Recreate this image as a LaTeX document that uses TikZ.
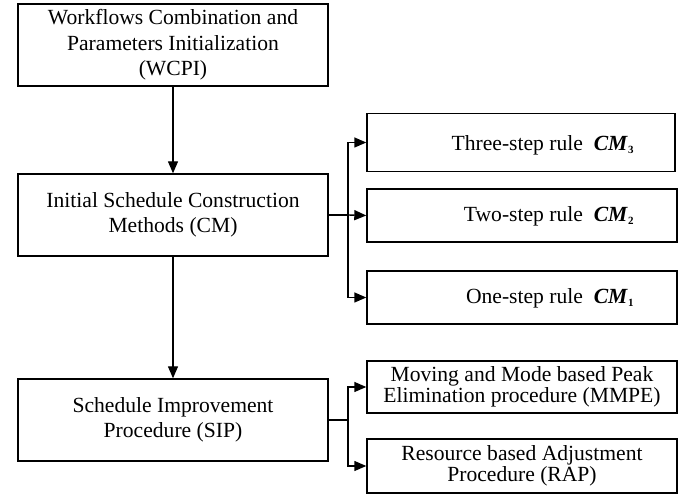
\documentclass[tikz,border=0pt]{standalone}
\usepackage{fontspec}
\setmainfont{Liberation Serif}
\usetikzlibrary{arrows.meta,calc}

\tikzset{
  box/.style={draw, line width=1.4pt, inner sep=0pt, align=center,
    font=\fontsize{21.6}{25.5}\selectfont},
  tightbox/.style={box, font=\fontsize{21.6}{18.5}\selectfont},
  lbl/.style={inner sep=0pt, anchor=east, font=\fontsize{21.6}{25}\selectfont},
  link/.style={line width=1.4pt, -{Triangle[length=12pt,width=10pt]}},
  plain/.style={line width=1.4pt}
}
\newcommand{\cmsub}[1]{\textbf{\textit{CM}}\raisebox{-3pt}{\fontsize{11}{11}\selectfont\textbf{#1}}}

\begin{document}
\begin{tikzpicture}[x=1pt,y=-1pt]
  \useasboundingbox (0,0) rectangle (686,494);

  % main column
  \node[box, minimum width=310pt, minimum height=82pt] (wcpi) at (173,45)
    {Workflows Combination and\\Parameters Initialization\\(WCPI)};
  \node[box, minimum width=310pt, minimum height=82pt] (cm) at (173,215)
    {Initial Schedule Construction\\Methods (CM)};
  \node[box, minimum width=310pt, minimum height=82pt] (sip) at (173,420)
    {Schedule Improvement\\Procedure (SIP)};

  % construction rules
  \node[box, minimum width=308pt, minimum height=58pt] (r3) at (521,142.5) {};
  \node[box, minimum width=310pt, minimum height=53pt] (r2) at (522,215.5) {};
  \node[box, minimum width=310pt, minimum height=53pt] (r1) at (522,297.5) {};
  \node[lbl] (t3) at ($(r3.east)+(-42,3)$) {Three-step rule\ \ \cmsub{3}};
  \node[lbl] (t2) at ($(r2.east)+(-44,1)$) {Two-step rule\ \ \cmsub{2}};
  \node[lbl] (t1) at ($(r1.east)+(-44,1)$) {One-step rule\ \ \cmsub{1}};

  % improvement procedures
  \node[tightbox, minimum width=310pt, minimum height=52pt] (mmpe) at (522,387)
    {Moving and Mode based Peak\\Elimination procedure (MMPE)};
  \node[tightbox, minimum width=310pt, minimum height=54pt] (rap) at (522,466)
    {Resource based Adjustment\\Procedure (RAP)};

  % branch points
  \coordinate (bcm) at (348,215);
  \coordinate (bsip) at (348,420);

  % connectors
  \draw[link] (wcpi) -- (cm);
  \draw[link] (cm) -- (sip);
  \draw[plain] (cm.east) -- (bcm);
  \draw[link] (bcm) |- (r3.west);
  \draw[link] (bcm) -- (r2.west);
  \draw[link] (bcm) |- (r1.west);
  \draw[plain] (sip.east) -- (bsip);
  \draw[link] (bsip) |- (mmpe.west);
  \draw[link] (bsip) |- (rap.west);
\end{tikzpicture}
\end{document}
